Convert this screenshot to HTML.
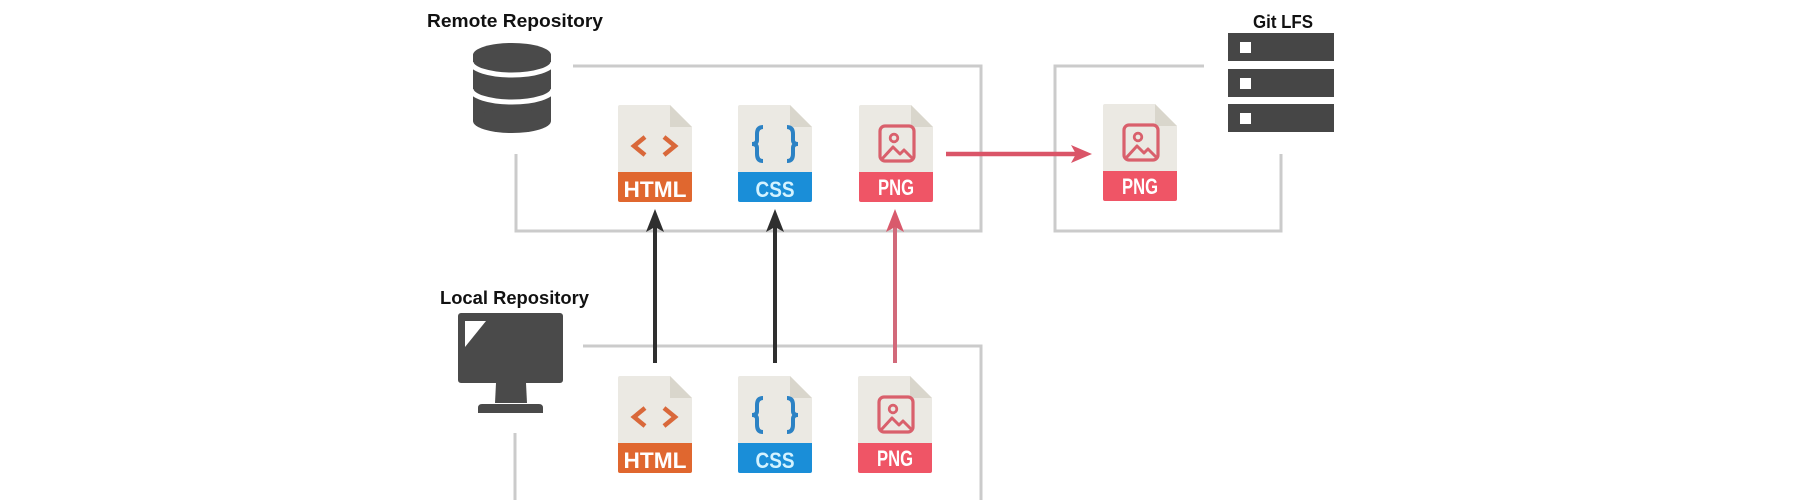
<!DOCTYPE html>
<html>
<head>
<meta charset="utf-8">
<style>
  html,body{margin:0;padding:0;background:#fff;}
  body{width:1814px;height:500px;overflow:hidden;}
  svg{display:block;}
  .lbl{font-family:"Liberation Sans",sans-serif;font-weight:bold;font-size:18px;fill:#111;}
  .band{font-family:"Liberation Sans",sans-serif;font-size:22px;font-weight:bold;}
</style>
</head>
<body>
<svg width="1814" height="500" viewBox="0 0 1814 500" xmlns="http://www.w3.org/2000/svg">
  <defs>
    <g id="paper">
      <path d="M0,2 Q0,0 2,0 H52 L74,22 V67 H0 Z" fill="#ebe9e3"/>
      <path d="M52,0 L74,22 H52 Z" fill="#d9d6cc"/>
    </g>
    <g id="htmlIcon">
      <use href="#paper"/>
      <path d="M0,67 H74 V95 Q74,97 72,97 H2 Q0,97 0,95 Z" fill="#e0672f"/>
      <polyline points="27,32 16,41 27,50" fill="none" stroke="#d9683a" stroke-width="4.5"/>
      <polyline points="46,32 57,41 46,50" fill="none" stroke="#d9683a" stroke-width="4.5"/>
      <text x="37" y="92" text-anchor="middle" class="band" fill="#fff" textLength="63" lengthAdjust="spacingAndGlyphs">HTML</text>
    </g>
    <g id="cssIcon">
      <use href="#paper"/>
      <path d="M0,67 H74 V95 Q74,97 72,97 H2 Q0,97 0,95 Z" fill="#1a8ed8"/>
      <path d="M25,22 Q19,22 19,29 V35 Q19,39 14,39 Q19,39 19,43 V49 Q19,56 25,56" fill="none" stroke="#2c82c4" stroke-width="4"/>
      <path d="M49,22 Q55,22 55,29 V35 Q55,39 60,39 Q55,39 55,43 V49 Q55,56 49,56" fill="none" stroke="#2c82c4" stroke-width="4"/>
      <text x="37" y="92" text-anchor="middle" class="band" fill="#d4f3ff" textLength="39" lengthAdjust="spacingAndGlyphs">CSS</text>
    </g>
    <g id="pngIcon">
      <use href="#paper"/>
      <path d="M0,67 H74 V95 Q74,97 72,97 H2 Q0,97 0,95 Z" fill="#ef5566"/>
      <rect x="21" y="21" width="34" height="35" rx="5" fill="none" stroke="#d9606c" stroke-width="3.2"/>
      <circle cx="35" cy="33" r="3.8" fill="none" stroke="#d9606c" stroke-width="2.8"/>
      <polyline points="23,54 34,42 41,49 45,45 54,54" fill="none" stroke="#d9606c" stroke-width="3" stroke-linejoin="round"/>
      <text x="37" y="90" text-anchor="middle" class="band" fill="#fff" font-size="20" textLength="36" lengthAdjust="spacingAndGlyphs">PNG</text>
    </g>
  </defs>

  <!-- Labels -->
  <text x="427" y="27" class="lbl" textLength="176" lengthAdjust="spacingAndGlyphs">Remote Repository</text>
  <text x="440" y="304" class="lbl" textLength="149" lengthAdjust="spacingAndGlyphs">Local Repository</text>
  <text x="1253" y="28" class="lbl" textLength="60" lengthAdjust="spacingAndGlyphs">Git LFS</text>

  <!-- Database icon -->
  <g fill="#4a4a4a">
    <ellipse cx="512" cy="55" rx="39" ry="12"/>
    <rect x="473" y="55" width="78" height="66"/>
    <ellipse cx="512" cy="121" rx="39" ry="12"/>
  </g>
  <path d="M471,62 A41,13 0 0 0 553,62" fill="none" stroke="#fff" stroke-width="5"/>
  <path d="M471,89 A41,13 0 0 0 553,89" fill="none" stroke="#fff" stroke-width="5"/>

  <!-- Server icon -->
  <g fill="#464646">
    <rect x="1228" y="33" width="106" height="28"/>
    <rect x="1228" y="69" width="106" height="28"/>
    <rect x="1228" y="104" width="106" height="28"/>
  </g>
  <g fill="#fff">
    <rect x="1240" y="42" width="11" height="11"/>
    <rect x="1240" y="78" width="11" height="11"/>
    <rect x="1240" y="113" width="11" height="11"/>
  </g>

  <!-- Monitor icon -->
  <rect x="458" y="313" width="105" height="70" rx="3" fill="#4a4a4a"/>
  <polygon points="465,321 486,321 465,347" fill="#fff"/>
  <polygon points="496,383 526,383 527,403 495,403" fill="#4a4a4a"/>
  <path d="M482,404 H539 Q543,404 543,408 V413 H478 V408 Q478,404 482,404 Z" fill="#4a4a4a"/>

  <!-- Box lines -->
  <g fill="none" stroke="#cbcbcb" stroke-width="3">
    <path d="M573,66 H981 V231 H516 V154"/>
    <path d="M1204,66 H1055 V231 H1281 V154"/>
    <path d="M583,346 H981 V500"/>
    <path d="M515,433 V500"/>
  </g>

  <!-- Remote files -->
  <use href="#htmlIcon" x="618" y="105"/>
  <use href="#cssIcon" x="738" y="105"/>
  <use href="#pngIcon" x="859" y="105"/>
  <!-- LFS file -->
  <use href="#pngIcon" x="1103" y="104"/>
  <!-- Local files -->
  <use href="#htmlIcon" x="618" y="376"/>
  <use href="#cssIcon" x="738" y="376"/>
  <use href="#pngIcon" x="858" y="376"/>

  <!-- Arrows -->
  <line x1="655" y1="363" x2="655" y2="224" stroke="#2f2f2f" stroke-width="4"/>
  <polygon points="655,209 664,232 655,227 646,232" fill="#2f2f2f"/>
  <line x1="775" y1="363" x2="775" y2="224" stroke="#2f2f2f" stroke-width="4"/>
  <polygon points="775,209 784,232 775,227 766,232" fill="#2f2f2f"/>
  <line x1="895" y1="363" x2="895" y2="224" stroke="#d2697a" stroke-width="4"/>
  <polygon points="895,209 904,232 895,227 886,232" fill="#d95a6c"/>
  <line x1="946" y1="154" x2="1080" y2="154" stroke="#da5568" stroke-width="4.5"/>
  <polygon points="1092,154 1071,145 1076,154 1071,163" fill="#da5568"/>
</svg>
</body>
</html>
